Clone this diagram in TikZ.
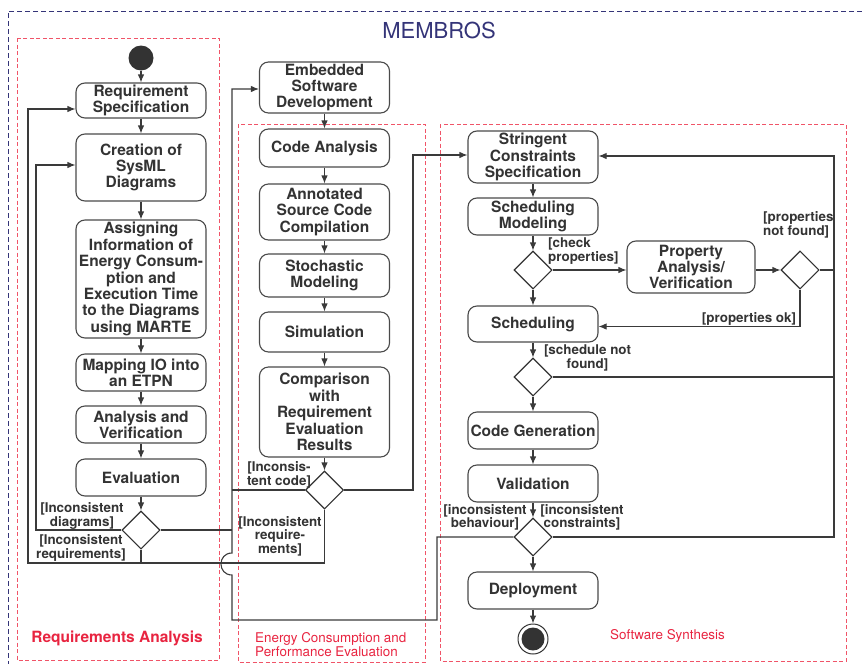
\documentclass[tikz,border=0pt]{standalone}
\usepackage{fontspec}
\setmainfont{TeX Gyre Heros}
\usetikzlibrary{shapes.geometric,arrows.meta}
\definecolor{ink}{HTML}{333333}
\definecolor{boxline}{HTML}{4A4A4A}
\definecolor{wire}{HTML}{3A3A3A}
\definecolor{groupred}{RGB}{232,36,64}
\definecolor{framered}{RGB}{240,84,104}
\definecolor{membros}{RGB}{52,52,120}

\begin{document}
\begin{tikzpicture}[x=1pt,y=-1pt,
  act/.style={draw=boxline, line width=1.1pt, rounded corners=9pt, align=center,
    inner sep=0pt, text=ink, font=\bfseries\fontsize{15.5}{16.4}\selectfont,
    minimum width=130pt},
  choice/.style={draw=ink, line width=1.1pt, shape=diamond, inner sep=0pt,
    minimum width=38pt, minimum height=38pt},
  flow/.style={draw=wire, line width=1.1pt, -{Latex[length=8pt,width=6.5pt]}},
  wireline/.style={draw=wire, line width=1.1pt},
  guard/.style={text=ink, font=\bfseries\fontsize{13.4}{13.6}\selectfont,
    align=center, inner sep=0pt},
  group/.style={draw=framered, line width=1pt, dash pattern=on 4pt off 2.5pt},
  outer/.style={draw=membros, line width=0.9pt, dash pattern=on 5pt off 3pt},
]
\useasboundingbox (0,0) rectangle (862,664);

% ---- frames ----
\draw[outer] (862,11) -- (8,11) -- (8,664);
\node[text=membros, font=\fontsize{22}{24}\selectfont, inner sep=0pt] (title) at (439,30) {MEMBROS};

\draw[group] (17,38) rectangle (219,660);
\draw[group] (238,124) rectangle (425,662);
\draw[group] (440,124) rectangle (846,661);

\node[text=groupred, font=\bfseries\fontsize{15.5}{16}\selectfont, inner sep=0pt] (lblra) at (117,638) {Requirements Analysis};
\node[text=groupred, font=\fontsize{13.4}{14}\selectfont, align=left, anchor=west, inner sep=0pt] (lblec) at (255,645) {Energy Consumption and\\Performance Evaluation};
\node[text=groupred, font=\fontsize{13.4}{14}\selectfont, inner sep=0pt] (lblss) at (667.5,636) {Software Synthesis};

% ---- requirements analysis ----
\node[circle, fill=ink, minimum size=25pt, inner sep=0pt] (init) at (141,58) {};
\node[act, minimum height=35pt] (rs) at (141,100.5) {Requirement\\Specification};
\node[act, minimum height=67pt] (sysml) at (141,167.5) {Creation of\\SysML\\Diagrams};
\node[act, minimum height=118pt] (assign) at (141,279) {Assigning\\Information of\\Energy Consum-\\ption and\\Execution Time\\to the Diagrams\\using MARTE};
\node[act, minimum height=37pt] (mapio) at (141,372.5) {Mapping IO into\\an ETPN};
\node[act, minimum height=37pt] (anv) at (141,424.5) {Analysis and\\Verification};
\node[act, minimum height=37pt] (eval) at (141,477.5) {Evaluation};
\node[choice] (d1) at (141,530) {};

% ---- energy consumption and performance evaluation ----
\node[act, minimum height=51pt] (esd) at (324.5,87.5) {Embedded\\Software\\Development};
\node[act, minimum height=38pt] (ca) at (324.5,148) {Code Analysis};
\node[act, minimum height=56pt] (ascc) at (324.5,212) {Annotated\\Source Code\\Compilation};
\node[act, minimum height=43pt] (sm) at (324.5,275.5) {Stochastic\\Modeling};
\node[act, minimum height=40pt] (sim) at (324.5,332) {Simulation};
\node[act, minimum height=90pt] (comp) at (324.5,412) {Comparison\\with\\Requirement\\Evaluation\\Results};
\node[choice] (d2) at (324.5,490) {};

% ---- software synthesis ----
\node[act, minimum height=52pt] (scs) at (533,157) {Stringent\\Constraints\\Specification};
\node[act, minimum height=37pt] (schm) at (533,216.5) {Scheduling\\Modeling};
\node[choice] (d3) at (533,270) {};
\node[act, minimum height=52pt, minimum width=128pt] (pav) at (691,267) {Property\\Analysis/\\Verification};
\node[choice] (d4) at (800,270) {};
\node[act, minimum height=36pt] (sched) at (533,324) {Scheduling};
\node[choice] (d5) at (533,377) {};
\node[act, minimum height=37pt] (cg) at (533,430.5) {Code Generation};
\node[act, minimum height=37pt] (val) at (533,483.5) {Validation};
\node[choice] (d6) at (533,537) {};
\node[act, minimum height=37pt] (dep) at (533,590.5) {Deployment};
\node[circle, draw=ink, line width=1pt, minimum size=30pt, inner sep=0pt,
  path picture={\fill[ink] (path picture bounding box.center) circle[radius=11.5pt];}] (fin) at (533,639) {};

% ---- main flows ----
\draw[flow] (init) -- (rs);
\draw[flow] (rs) -- (sysml);
\draw[flow] (sysml) -- (assign);
\draw[flow] (assign) -- (mapio);
\draw[flow] (mapio) -- (anv);
\draw[flow] (anv) -- (eval);
\draw[flow] (eval) -- (d1);

\draw[flow] (esd) -- (ca);
\draw[flow] (ca) -- (ascc);
\draw[flow] (ascc) -- (sm);
\draw[flow] (sm) -- (sim);
\draw[flow] (sim) -- (comp);
\draw[flow] (comp) -- (d2);

\draw[flow] (scs) -- (schm);
\draw[flow] (schm) -- (d3);
\draw[flow] (d3) -- (sched);
\draw[flow] (d3.east) -- (d3.east -| pav.west);
\draw[flow] (pav.east |- d4.west) -- (d4.west);
\draw[flow] (sched) -- (d5);
\draw[flow] (d5) -- (cg);
\draw[flow] (cg) -- (val);
\draw[flow] (val) -- (d6);
\draw[flow] (d6) -- (dep);
\draw[flow] (dep) -- (fin);

% ---- feedback loops, left ----
\draw[flow] (d1.west) -- (36,530) |- ([yshift=2.5pt]sysml.west);
\draw[flow] (d2.south) -- (324.5,563) -- (28,563) |- ([yshift=-8.5pt]rs.west);
\draw[wireline] (d1.south) -- (141,563);
\draw[wireline] (d1.east) -- (232,530);
\draw[wireline] (d2.west) -- (232,490);

% back to embedded software development, hopping over the lower bus
\draw[flow] (d6.west) -- (437,537) -- (437,620) -- (232,620) -- (232,575)
  .. controls (217.3,575) and (217.3,553) .. (232,553) |- ([yshift=-1.5pt]esd.west);

% on to software synthesis
\draw[flow] (d2.east) -- (413,490) |- ([yshift=2pt]scs.west);

% ---- feedback loops, right ----
\draw[flow] (d6.east) -- (834,537) |- ([yshift=1pt]scs.east);
\draw[wireline] (d4.east) -- (834,270);
\draw[wireline] (d5.east) -- (834,377);
\draw[flow] (d4.south) |- ([yshift=-2.5pt]sched.east);

% ---- guards ----
\node[guard] (g1) at (82,516) {[Inconsistent\\diagrams]};
\node[guard] (g2) at (81,548) {[Inconsistent\\requirements]};
\node[guard] (g3) at (279,475) {[Inconsis-\\tent code]};
\node[guard] (g4) at (280,536) {[Inconsistent\\require-\\ments]};
\node[guard, align=left, anchor=west] (g5) at (548,251) {[check\\properties]};
\node[guard, align=left, anchor=west] (g6) at (763,225) {[properties\\not found]};
\node[guard] (g7) at (749,318.5) {[properties ok]};
\node[guard] (g8) at (587.5,358) {[schedule not\\found]};
\node[guard] (g9) at (485,517.5) {[inconsistent\\behaviour]};
\node[guard] (g10) at (582,517.5) {[inconsistent\\constraints]};
\end{tikzpicture}
\end{document}
